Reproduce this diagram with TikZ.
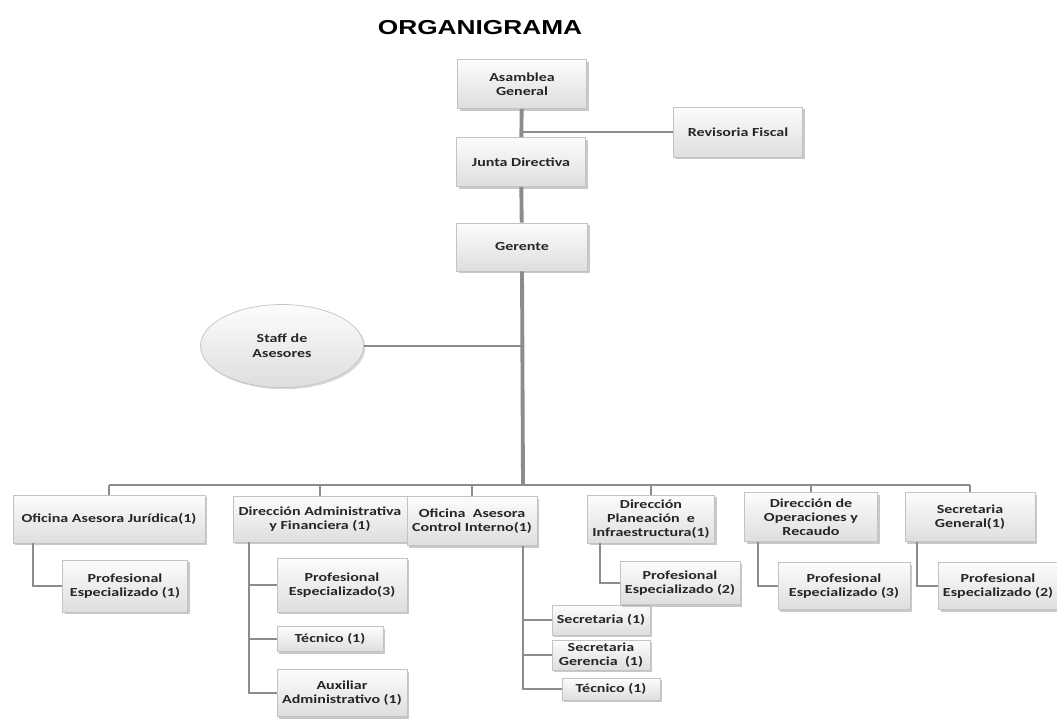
\documentclass[tikz,border=0pt]{standalone}
\usepackage{fontspec}
\setmainfont{Carlito}
\newfontfamily\boxfont{Carlito}[FakeStretch=1.3]
\newfontfamily\titlefont{Liberation Sans}
\usepackage{tikz}
\usetikzlibrary{shapes.geometric, shadows, positioning}
\definecolor{boxline}{RGB}{195,195,195}
\definecolor{boxtop}{RGB}{252,252,252}
\definecolor{boxbottom}{RGB}{222,222,222}
\definecolor{connline}{RGB}{140,140,140}

\begin{document}
\begin{tikzpicture}[
    x=0.02cm, y=-0.02cm,
    unit/.style={draw=boxline, top color=boxtop, bottom color=boxbottom, align=center, inner sep=1pt,
        font=\boxfont\fontsize{7}{8}\selectfont\bfseries, text=black!85,
        drop shadow={shadow xshift=1.2pt, shadow yshift=-1.2pt, fill=gray!60, opacity=.7}},
    staff/.style={ellipse, draw=boxline, top color=boxtop, bottom color=boxbottom, align=center, inner sep=1pt,
        font=\boxfont\fontsize{7}{8.5}\selectfont\bfseries, text=black!85,
        drop shadow={shadow xshift=1pt, shadow yshift=-1pt, fill=gray!50, opacity=.6}},
    title/.style={font=\titlefont\fontsize{11.5}{12}\selectfont\bfseries},
    trunk/.style={connline, line width=2.2pt},
    link/.style={connline, line width=0.8pt}
]
\useasboundingbox (0,0) rectangle (1057,718);

\node[title] (title) at (480,28) {\scalebox{1.3}[1]{ORGANIGRAMA}};

% direccion superior
\node[unit, minimum width=2.58cm, minimum height=0.98cm] (asamblea) at (522,84) {Asamblea\\General};
\node[unit, minimum width=2.58cm, minimum height=0.98cm] (junta) at (521,162) {Junta Directiva};
\node[unit, minimum width=2.58cm, minimum height=1.0cm] (revisoria) at (738,132) {Revisoria Fiscal};
\node[unit, minimum width=2.62cm, minimum height=0.96cm] (gerente) at (522,247) {Gerente};
\node[staff, minimum width=3.26cm, minimum height=1.66cm] (asesores) at (282,346) {Staff de\\Asesores};

% dependencias
\node[unit, minimum width=3.84cm, minimum height=0.96cm] (juridica) at (109,519) {Oficina Asesora Jurídica(1)};
\node[unit, minimum width=3.48cm, minimum height=0.92cm] (administrativa) at (320,519) {Dirección Administrativa\\y Financiera (1)};
\node[unit, minimum width=2.60cm, minimum height=0.98cm] (control) at (472,521) {Oficina \ Asesora\\Control Interno(1)};
\node[unit, minimum width=2.54cm, minimum height=0.96cm] (planeacion) at (651,519) {Dirección\\Planeación \ e\\Infraestructura(1)};
\node[unit, minimum width=2.66cm, minimum height=0.98cm] (operaciones) at (811,517) {Dirección de\\Operaciones y\\Recaudo};
\node[unit, minimum width=2.60cm, minimum height=0.98cm] (secgeneral) at (970,517) {Secretaria\\General(1)};

% cargos
\node[unit, minimum width=2.50cm, minimum height=1.04cm] (profjur) at (125,586) {Profesional\\Especializado (1)};
\node[unit, minimum width=2.60cm, minimum height=1.08cm] (profadm) at (342,585) {Profesional\\Especializado(3)};
\node[unit, minimum width=2.12cm, minimum height=0.50cm] (tecadm) at (330,639) {Técnico (1)};
\node[unit, minimum width=2.60cm, minimum height=0.94cm] (auxadm) at (342,693) {Auxiliar\\Administrativo (1)};
\node[unit, minimum width=1.96cm, minimum height=0.60cm] (secret) at (601,620) {Secretaria (1)};
\node[unit, minimum width=1.96cm, minimum height=0.60cm] (secger) at (601,655) {Secretaria\\Gerencia \ (1)};
\node[unit, minimum width=1.96cm, minimum height=0.44cm] (teccon) at (611,689) {Técnico (1)};
\node[unit, minimum width=2.40cm, minimum height=0.86cm] (profpla) at (680,583) {Profesional\\Especializado (2)};
\node[unit, minimum width=2.64cm, minimum height=0.94cm] (profope) at (844,586) {Profesional\\Especializado (3)};
\node[unit, minimum width=2.38cm, minimum height=0.94cm] (profsec) at (998,586) {Profesional\\Especializado (2)};

% puntos de quiebre
\coordinate (bus) at (523,485);
\coordinate (vjur) at (33,543);
\coordinate (vadm) at (249,542);
\coordinate (vcon) at (523,546);
\coordinate (vpla) at (600,543);
\coordinate (vope) at (758,542);
\coordinate (vsec) at (917,542);

% lineas de mando
\draw[trunk] (asamblea) -- (junta);
\draw[trunk] (junta) -- (gerente);
\draw[trunk] (gerente.south) -- (bus);
\draw[link] (revisoria.west) -- (revisoria.west -| asamblea.south);
\draw[link] (asesores.east) -- (asesores.east -| bus);
\draw[link] (juridica.north |- bus) -- (secgeneral.north |- bus);
\draw[link] (juridica.north) -- (juridica.north |- bus);
\draw[link] (administrativa.north) -- (administrativa.north |- bus);
\draw[link] (control.north) -- (control.north |- bus);
\draw[link] (planeacion.north) -- (planeacion.north |- bus);
\draw[link] (operaciones.north) -- (operaciones.north |- bus);
\draw[link] (secgeneral.north) -- (secgeneral.north |- bus);

\draw[link] (vjur) |- (profjur.west);
\draw[link] (vadm) |- (profadm.west);
\draw[link] (vadm) |- (tecadm.west);
\draw[link] (vadm) |- (auxadm.west);
\draw[link] (vcon) |- (secret.west);
\draw[link] (vcon) |- (secger.west);
\draw[link] (vcon) |- (teccon.west);
\draw[link] (vpla) |- (profpla.west);
\draw[link] (vope) |- (profope.west);
\draw[link] (vsec) |- (profsec.west);

\end{tikzpicture}
\end{document}
